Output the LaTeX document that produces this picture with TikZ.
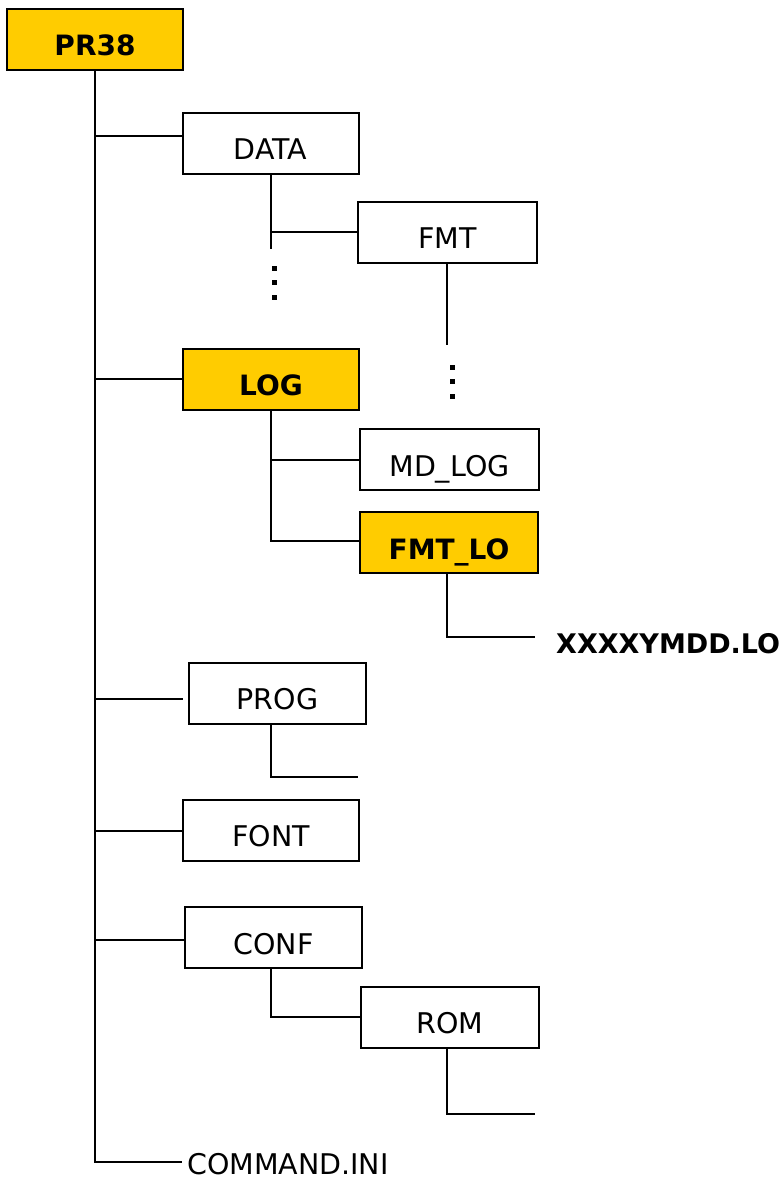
\documentclass[tikz,border=0pt]{standalone}
\usepackage{fontspec}
\setmainfont{DejaVu Sans}
\definecolor{folderyellow}{HTML}{FFCC00}
\begin{document}
\begin{tikzpicture}[x=1pt,y=-1pt,
  dirbox/.style={draw=black, line width=2pt, fill=white, minimum width=176pt,
    inner sep=0pt, text height=47pt, text depth=14pt,
    font=\fontsize{28.5}{32}\selectfont},
  hibox/.style={dirbox, fill=folderyellow, font=\fontsize{28}{32}\selectfont\bfseries},
  conn/.style={line width=2pt, draw=black},
  dotsq/.style={fill=black},
  plain/.style={inner sep=0pt, font=\fontsize{28.5}{32}\selectfont}
]
\useasboundingbox (0,0) rectangle (779,1177);

% nodes
\node[hibox]  (pr38)  at (95,39.5)   {PR38};
\node[dirbox] (data)  at (270.5,143.5) {DATA};
\node[dirbox, minimum width=179pt] (fmt) at (447.5,232) {FMT};
\node[hibox]  (log)   at (271,379)   {LOG};
\node[dirbox, minimum width=179pt] (mdlog) at (449.5,459.5) {MD\_LOG};
\node[hibox, minimum width=178pt]  (fmtlo) at (449,542.5) {FMT\_LO};
\node[plain, anchor=base west, font=\fontsize{27}{30}\selectfont\bfseries] (xfile) at (556,653) {XXXXYMDD.LO};
\node[dirbox, minimum width=177pt] (prog) at (277.5,693) {PROG};
\node[dirbox] (font)  at (271,830)   {FONT};
\node[dirbox, minimum width=177pt] (conf) at (273.5,937.5) {CONF};
\node[dirbox, minimum width=178pt] (rom) at (450,1017) {ROM};
\node[plain, anchor=base west] (cmd) at (187,1174) {COMMAND.INI};

\coordinate (dataend) at (271,249);
\coordinate (fmtend)  at (447,345);
\coordinate (xline)   at (535,637);
\coordinate (progend) at (358,777);
\coordinate (romend)  at (535,1114);
\coordinate (cmdline) at (182,1162);

% trunk
\draw[conn] (pr38.south) |- (cmdline);
\draw[conn] (pr38.south |- 0,136) -- (data.west |- 0,136);
\draw[conn] (pr38.south |- log.west) -- (log.west);
\draw[conn] (pr38.south |- 0,699) -- (183,699);
\draw[conn] (pr38.south |- 0,831) -- (font.west |- 0,831);
\draw[conn] (pr38.south |- 0,940) -- (conf.west |- 0,940);

% DATA subtree
\draw[conn] ([xshift=0.5pt]data.south) -- (dataend);
\draw[conn] (dataend |- fmt.west) -- (fmt.west);
\fill[dotsq] (271.5,265.5) rectangle +(5,5);
\fill[dotsq] (271.5,279.5) rectangle +(5,5);
\fill[dotsq] (271.5,294.5) rectangle +(5,5);
\draw[conn] (fmtend |- fmt.south) -- (fmtend);
\fill[dotsq] (449.5,364.5) rectangle +(5,5);
\fill[dotsq] (449.5,378.5) rectangle +(5,5);
\fill[dotsq] (449.5,393.5) rectangle +(5,5);

% LOG subtree
\draw[conn] (log.south) |- (fmtlo.west |- 0,541);
\draw[conn] (log.south |- mdlog.west) -- (mdlog.west);
\draw[conn] ([xshift=-2pt]fmtlo.south) |- (xline);

% PROG subtree
\draw[conn] ([xshift=-6.5pt]prog.south) |- (progend);

% CONF subtree
\draw[conn] ([xshift=-2.5pt]conf.south) |- (rom.west);
\draw[conn] ([xshift=-3pt]rom.south) |- (romend);
\end{tikzpicture}
\end{document}
